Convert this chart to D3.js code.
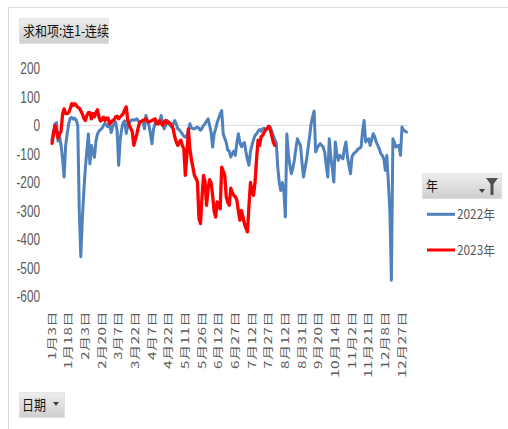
<!DOCTYPE html>
<html>
<head>
<meta charset="utf-8">
<script src="https://cdn.jsdelivr.net/npm/d3@7"></script>
<style>
  body { margin: 0; background: #fff; }
  svg { display: block; }
</style>
</head>
<body>
<div id="draw"></div>
<script>
// tick labels every 11 trading days
let tickLabels = ['1月3日','1月18日','2月3日','2月20日','3月7日','3月22日','4月7日','4月22日',
  '5月11日','5月26日','6月12日','6月27日','7月12日','7月27日','8月12日','8月31日',
  '9月20日','10月14日','11月2日','11月21日','12月8日','12月27日'];
let tickEvery = 11;
let yTicks = [200, 100, 0, -100, -200, -300, -400, -500, -600];
let seriesNames = ['2022年', '2023年'];

let blue2022 = [-50,-20,5,10,-55,-40,-70,-120,-181,-70,
  -30,5,25,28,22,25,18,0,-300,-460,
  -330,-230,-150,-90,-30,-135,-70,-95,-112,-55,
  -30,-20,-15,-10,0,7,0,-5,12,-25,
  -5,5,12,-20,-140,-50,-12,10,16,-28,
  0,8,17,20,18,20,23,15,12,15,
  17,-12,35,15,0,-30,-64,-12,5,17,
  10,6,35,10,-12,0,17,10,0,-6,
  5,17,5,-12,-15,-23,-30,-38,-41,-35,
  -20,6,-8,-12,-12,-8,-6,-10,-17,-10,
  0,6,15,23,0,-25,-76,-30,-12,10,
  25,40,52,-30,-45,-60,-87,-90,-111,-100,
  -90,-105,-60,-29,-60,-75,-65,-60,-93,-120,
  -140,-90,-70,-50,-35,-30,-20,-15,-20,-12,
  -10,-17,-12,-8,-5,-20,-35,-50,-60,-146,
  -200,-228,-200,-228,-321,-30,-100,-140,-169,-150,
  -120,-80,-47,-60,-70,-130,-181,-150,-120,-80,
  -40,5,30,50,-93,-80,-70,-64,-70,-76,
  -95,-140,-181,-47,-110,-150,-198,-58,-100,-122,
  -105,-110,-117,-80,-58,-110,-140,-169,-110,-100,
  -95,-90,-82,-80,-76,-20,17,-58,-50,-47,
  -70,-50,-29,-40,-58,-70,-82,-99,-105,-117,
  -157,-105,-200,-300,-542,-47,-60,-76,-72,-70,
  -105,-6,-17,-20,-23];

let red2023 = [-63,-30,0,-20,-45,-30,-20,41,58,41,
  41,45,58,76,70,76,70,64,60,52,
  40,25,17,35,45,45,23,41,30,45,
  55,30,15,20,29,17,25,25,6,10,
  17,20,30,32,23,30,35,41,55,65,
  17,0,-10,-23,-70,-50,-30,-5,12,14,
  17,20,23,15,12,15,17,20,23,5,
  5,17,8,0,12,17,8,12,6,0,
  -12,-40,-58,-70,-60,-52,-70,-82,-175,-105,
  -12,-82,-120,-146,-175,-185,-198,-327,-344,-250,
  -175,-198,-280,-222,-190,-200,-245,-300,-321,-268,
  -280,-292,-146,-160,-175,-250,-270,-280,-220,-235,
  -245,-250,-262,-300,-332,-298,-320,-344,-360,-373,
  -280,-200,-230,-245,-200,-120,-52,-70,-40,-35,
  -25,-15,-10,-3,-15,-35,-58,-70];

let colors = ['#4f81bd', '#ff0000'];
let W = 508, H = 429;
let N = blue2022.length;

let svg = d3.select('#draw').append('svg').attr('width', W).attr('height', H);

let defs = svg.append('defs');
let grad = defs.append('linearGradient').attr('id', 'btn')
  .attr('x1', 0).attr('y1', 0).attr('x2', 0).attr('y2', 1);
grad.append('stop').attr('offset', '0%').attr('stop-color', '#ededed');
grad.append('stop').attr('offset', '100%').attr('stop-color', '#cfcfcf');

// outer frame
svg.append('path').attr('d', 'M8.5,429 V7.5 H508')
  .attr('fill', 'none').attr('stroke', '#d9d9d9');

let x = d3.scalePoint().domain(d3.range(N)).range([51.25, 407.3]).padding(0.5);
let y = d3.scaleLinear().domain([-600, 200]).range([296.7, 68.3]);

// zero line
svg.append('line')
  .attr('x1', 51).attr('x2', 408)
  .attr('y1', y(0)).attr('y2', y(0))
  .attr('stroke', '#d9d9d9').attr('stroke-width', 1);

// y labels
svg.append('g').selectAll('text').data(yTicks).enter().append('text')
  .attr('transform', d => 'translate(40,' + y(d) + ') scale(1,1.4)')
  .attr('dy', '0.35em')
  .attr('text-anchor', 'end')
  .attr('font-family', 'Liberation Sans, Arial, sans-serif')
  .attr('font-size', '11.8px')
  .attr('fill', '#595959')
  .text(d => d);

// x labels (rotated)
svg.append('g').selectAll('text').data(tickLabels).enter().append('text')
  .attr('transform', (d, i) => 'translate(' + x(i * tickEvery) + ',311) scale(1,1.45) rotate(-90)')
  .attr('dy', '0.35em')
  .attr('text-anchor', 'end')
  .attr('font-family', 'Noto Sans CJK SC, sans-serif')
  .attr('font-size', '10.5px')
  .attr('letter-spacing', '0.3px')
  .attr('fill', '#595959')
  .text(d => d);

let line = d3.line()
  .defined(d => d != null)
  .x((d, i) => x(i))
  .y(d => y(d));

[blue2022, red2023].forEach(function(s, k) {
  svg.append('path').datum(s)
    .attr('d', line)
    .attr('fill', 'none')
    .attr('stroke', colors[k])
    .attr('stroke-width', k === 0 ? 3 : 3.3)
    .attr('stroke-linejoin', 'round')
    .attr('stroke-linecap', 'round');
});

// field buttons
let button = function(bx, by, bw, bh, label, tx) {
  svg.append('rect').attr('x', bx).attr('y', by).attr('width', bw).attr('height', bh)
    .attr('fill', 'url(#btn)').attr('stroke', '#d4d4d4').attr('stroke-width', 0.5);
  svg.append('text')
    .attr('transform', 'translate(' + tx + ',' + (by + bh / 2) + ') scale(1,1.15)')
    .attr('dy', '0.36em')
    .attr('font-family', 'Noto Sans CJK SC, sans-serif')
    .attr('font-size', '12px')
    .attr('fill', '#111')
    .text(label);
};
button(19.5, 18.5, 89, 25, '求和项:连1-连续', 23);
button(19.5, 392.5, 45, 25, '日期', 22);
button(422.5, 173.5, 79, 25, '年', 426);

// dropdown arrows and filter funnel
svg.append('path').attr('d', 'M53,402 h6 l-3,4 z').attr('fill', '#404040');
svg.append('path').attr('d', 'M479,189 h6 l-3,4 z').attr('fill', '#404040');
svg.append('path').attr('d', 'M486,178 h12 l-4.5,6 v11 h-3 v-11 z').attr('fill', '#505050');

// legend
let leg = svg.append('g');
seriesNames.forEach(function(name, k) {
  let ly = 214.3 + k * 35.7;
  leg.append('line')
    .attr('x1', 427).attr('x2', 455).attr('y1', ly).attr('y2', ly)
    .attr('stroke', colors[k]).attr('stroke-width', 3);
  leg.append('text')
    .attr('transform', 'translate(457,' + ly + ') scale(1,1.1)')
    .attr('dy', '0.36em')
    .attr('font-family', 'Noto Sans CJK SC, sans-serif')
    .attr('font-size', '11.8px')
    .attr('fill', '#595959')
    .text(name);
});
</script>
</body>
</html>
